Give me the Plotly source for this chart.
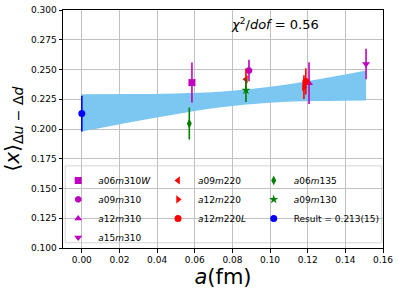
import plotly.graph_objects as go

# ---- data ----
names = ["a06m310W", "a09m310", "a12m310", "a15m310",
         "a09m220", "a12m220", "a12m220L",
         "a06m135", "a09m130", "Result"]
labels = ["<i>a</i>06<i>m</i>310<i>W</i>", "<i>a</i>09<i>m</i>310",
          "<i>a</i>12<i>m</i>310", "<i>a</i>15<i>m</i>310",
          "<i>a</i>09<i>m</i>220", "<i>a</i>12<i>m</i>220",
          "<i>a</i>12<i>m</i>220<i>L</i>",
          "<i>a</i>06<i>m</i>135", "<i>a</i>09<i>m</i>130",
          "Result = 0.213(15)"]
a_vals = [0.0585, 0.0888, 0.1207, 0.1510, 0.0872, 0.1180, 0.1190, 0.0571, 0.0872, 0.0]
x_vals = [0.2390, 0.2491, 0.2385, 0.2547, 0.2418, 0.2352, 0.2400, 0.2046, 0.2326, 0.213]
x_errs = [0.0168, 0.0090, 0.0175, 0.0128, 0.0090, 0.0100, 0.0110, 0.0135, 0.0100, 0.015]
colors = ["#bf00bf"] * 4 + ["#ff0000"] * 3 + ["#008000"] * 2 + ["#0000ff"]
symbols = ["square", "octagon", "triangle-up", "triangle-down",
           "triangle-left", "triangle-right", "circle",
           "diamond-tall", "star", "circle"]
legend_group = ["legend"] * 4 + ["legend2"] * 3 + ["legend3"] * 3

band_a = [0.0, 0.025, 0.05, 0.075, 0.10, 0.125, 0.151]
band_upper = [0.2293, 0.2294, 0.2299, 0.2315, 0.2355, 0.2417, 0.2492]
band_lower = [0.1979, 0.2055, 0.2125, 0.2185, 0.2221, 0.2235, 0.2240]

chi_text = "<i>χ</i><sup>2</sup>/<i>dof</i> = 0.56"
chi_pos = (0.0782, 0.2883)

x_ticks = [0.00, 0.02, 0.04, 0.06, 0.08, 0.10, 0.12, 0.14, 0.16]
y_ticks = [0.100, 0.125, 0.150, 0.175, 0.200, 0.225, 0.250, 0.275, 0.300]

FONT = "DejaVu Sans"

fig = go.Figure()

# fit band
fig.add_trace(go.Scatter(x=band_a, y=band_upper, mode="lines",
                         line=dict(width=0, shape="spline"),
                         showlegend=False, hoverinfo="skip"))
fig.add_trace(go.Scatter(x=band_a, y=band_lower, mode="lines",
                         line=dict(width=0, shape="spline"), fill="tonexty",
                         fillcolor="rgb(124,198,242)",
                         showlegend=False, hoverinfo="skip"))

for i in range(len(names)):
    fig.add_trace(go.Scatter(
        x=[a_vals[i]], y=[x_vals[i]], mode="markers", name=labels[i],
        legend=legend_group[i],
        marker=dict(symbol=symbols[i], color=colors[i], size=7,
                    line=dict(width=0)),
        error_y=dict(type="data", array=[x_errs[i]], color=colors[i],
                     thickness=1.6, width=0),
    ))

fig.add_annotation(x=chi_pos[0], y=chi_pos[1], xref="x", yref="y",
                   text=chi_text, showarrow=False,
                   font=dict(family=FONT, size=13, color="black"),
                   xanchor="left", yanchor="middle")

# legend frame
fig.add_shape(type="rect", xref="paper", yref="paper",
              x0=0.007, x1=0.996, y0=0.022, y1=0.345,
              line=dict(color="#d4d4d4", width=1),
              fillcolor="rgba(255,255,255,0.8)", layer="below")

leg_common = dict(orientation="v", yanchor="top", xanchor="left",
                  bgcolor="rgba(0,0,0,0)", borderwidth=0,
                  font=dict(family=FONT, size=9), traceorder="normal")
fig.update_layout(
    width=399, height=294,
    margin=dict(l=63, r=16, t=10, b=46, autoexpand=False),
    paper_bgcolor="white", plot_bgcolor="white",
    font=dict(family=FONT, size=9, color="black"),
    legend=dict(x=-0.015, y=0.345, **leg_common),
    legend2=dict(x=0.297, y=0.345, **leg_common),
    legend3=dict(x=0.596, y=0.345, **leg_common),
    showlegend=True,
)
fig.update_xaxes(range=[-0.01, 0.16], tickvals=x_ticks,
                 ticktext=[f"{v:.2f}" for v in x_ticks],
                 showgrid=True, gridcolor="#c0c0c0", gridwidth=1,
                 showline=True, linecolor="black", linewidth=1, mirror=True,
                 ticks="outside", ticklen=3.5, tickcolor="black",
                 zeroline=False,
                 title=dict(text="<i>a</i>(fm)", font=dict(family=FONT, size=21),
                            standoff=5))
fig.update_yaxes(range=[0.1, 0.3], tickvals=y_ticks,
                 ticktext=[f"{v:.3f}" for v in y_ticks],
                 showgrid=True, gridcolor="#c0c0c0", gridwidth=1,
                 showline=True, linecolor="black", linewidth=1, mirror=True,
                 ticks="outside", ticklen=3.5, tickcolor="black",
                 zeroline=False,
                 title=dict(text="⟨<i>x</i>⟩<sub>Δ<i>u</i> − Δ<i>d</i></sub>",
                            font=dict(family=FONT, size=20), standoff=6))

# remove the page's default 8px body margin so the figure sits at the window origin
fig.write_html("out.html", post_script="document.body.style.margin='0';",
               config={"displayModeBar": False})
